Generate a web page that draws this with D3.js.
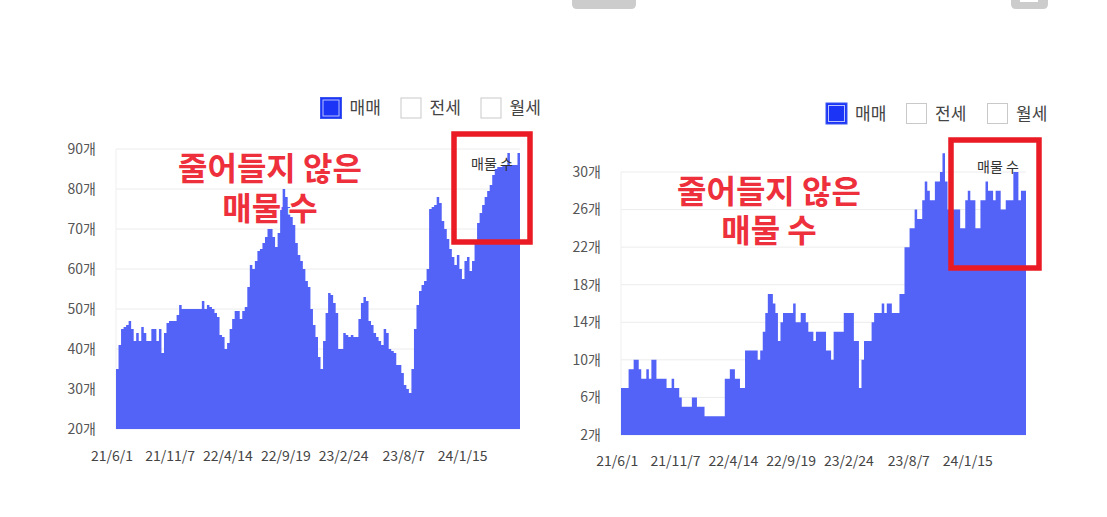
<!DOCTYPE html>
<html><head><meta charset="utf-8">
<script src="https://cdn.jsdelivr.net/npm/d3@7"></script>
<style>
html,body{margin:0;padding:0;background:#fff;}
svg{display:block;}
text{font-family:"Noto Sans CJK KR","Noto Sans",sans-serif;}
</style></head>
<body>
<svg id="c" width="1107" height="517"></svg>
<script>
// ---------- data ----------
const legendItems = ["매매", "전세", "월세"];
const xTickLabels = ["21/6/1", "21/11/7", "22/4/14", "22/9/19", "23/2/24", "23/8/7", "24/1/15"];
const xTickDates = ["2021-06-01", "2021-11-07", "2022-04-14", "2022-09-19", "2023-02-24", "2023-08-07", "2024-01-15"];
const leftYTicks = [20, 30, 40, 50, 60, 70, 80, 90];
const rightYTicks = [2, 6, 10, 14, 18, 22, 26, 30];
const annotationLines = ["줄어들지 않은", "매물 수"];
const boxLabel = "매물 수";

// weekly-ish sale listing counts (매매), left complex
const leftValues = [35,41,45,45.5,46,47,45,42,44,42,45.5,44,42,42,45,45,42,45,39,44,
  46.5,47,47,47,48.5,51,50,50,50,50,50,50,50,50,52,50,51,50.5,50,49,
  48,43.5,43,40,41.5,45,47.5,49.5,49.5,47.5,49.5,50.5,55.5,61,60,62,64.5,65,66.5,68,
  70,70,68,65.5,69,75.5,80,78,75.5,73,71,66.5,63.5,62,60,57,55.5,50,46,43,
  38,35,42,49,54,53.5,51.5,49,40,40,44,43.5,43,43.5,43,43,47.5,51.5,53,52,
  47,46,44,43,42,41,45,44,40,39.5,39,36,36,34,31,30,29,35,45,51,
  54.5,56,57,60,75,75.5,76,78,76.5,72,70,67.5,65,63,61,63.5,60,57.5,62,63,
  59.5,62,67,71.5,74,76,78,79.5,81,83.5,85,85.5,85.5,86,86,89,86,86,86,89];

// right complex
const rightValues = [7,7,7,9,9,10,10,9,8,8,9,8,10,10,8,8,8,8,7,7,
  8,7,7,6,5,5,5,5,6,6,5,5,5,4,4,4,4,4,4,4,
  4,8,8,9,9,8,8,7,7,11,11,11,11,11,10,11,13,15,17,17,
  16,15,12,14,15,15,15,15,16,14,14,15,15,14,13,13,12,13,13,13,
  13,11,11,10,13,13,13,13,15,15,15,15,12,12,7,10,12,12,12,14,
  15,15,15,16,15,16,16,15,15,15,17,17,22,22,24,24,26,25,25,27,
  29,28,27,27,29,29,30,32,29,26,26,26,26,26,24,24,27,28,27,27,
  24,24,27,27,29,28,28,27,28,28,26,26,27,27,27,30,30,27,28,28];

// ---------- drawing ----------
const svg = d3.select("#c");
const parse = d3.timeParse("%Y-%m-%d");
const DAY = 86400000;
const AREA_COLOR = "#5463f7";
const RED = "#ee2f3c";

// top gray tabs
svg.append("path").attr("d","M572,0 H636 V4 Q636,9 631,9 H577 Q572,9 572,4 Z").attr("fill","#cccccc");
svg.append("path").attr("d","M1011,0 H1048 V4 Q1048,9 1043,9 H1016 Q1011,9 1011,4 Z").attr("fill","#cccccc");
svg.append("rect").attr("x",1020).attr("y",0).attr("width",18).attr("height",2).attr("fill","#fff");

function drawChart(cfg){
  const g = svg.append("g");
  const n = cfg.values.length;
  const start = parse(cfg.start);
  const stepMs = cfg.stepDays * DAY;
  const dates = cfg.values.map((v,i)=> new Date(+start + i*stepMs));
  const end = new Date(+start + n*stepMs);
  const x = d3.scaleTime().domain([start, end]).range([cfg.left, cfg.right]);
  const y = d3.scaleLinear().domain(cfg.yDomain).range([cfg.bottom, cfg.top]);

  // grid
  g.selectAll("line.grid").data(cfg.yTicks).join("line")
    .attr("x1", cfg.left).attr("x2", cfg.right)
    .attr("y1", d=>y(d)).attr("y2", d=>y(d))
    .attr("stroke","#ececec").attr("stroke-width",1);
  g.append("line").attr("x1",cfg.left).attr("x2",cfg.left)
    .attr("y1",y(cfg.yTicks[cfg.yTicks.length-1])).attr("y2",cfg.bottom)
    .attr("stroke","#efefef");

  // y labels
  g.selectAll("text.yl").data(cfg.yTicks).join("text")
    .attr("x", cfg.left - 20).attr("y", d=>y(d)).attr("dy","0.35em")
    .attr("text-anchor","end").attr("font-size",14).attr("fill","#555")
    .text(d=> d + "개");

  // x labels
  g.selectAll("text.xl").data(xTickLabels).join("text")
    .attr("x",(d,i)=> x(parse(xTickDates[i]))).attr("y", cfg.xLabelY)
    .attr("text-anchor","middle").attr("font-size",14).attr("fill","#444")
    .text(d=>d);

  // area (step)
  const pts = dates.map((d,i)=>({d, v: cfg.values[i]}));
  pts.push({d: end, v: cfg.values[n-1]});
  const area = d3.area().curve(d3.curveStepAfter)
    .x(p=>x(p.d)).y0(y(cfg.yDomain[0])).y1(p=>y(p.v));
  g.append("path").datum(pts).attr("d", area).attr("fill", AREA_COLOR);

  // legend
  legendItems.forEach((name,i)=>{
    const bx = cfg.legendX[i];
    const by = cfg.legendY;
    if(i===0){
      g.append("rect").attr("x",bx).attr("y",by).attr("width",21).attr("height",21)
        .attr("fill","#1c34f6").attr("stroke","#3a55f0").attr("stroke-width",1);
      g.append("rect").attr("x",bx+2.5).attr("y",by+2.5).attr("width",16).attr("height",16)
        .attr("fill","none").attr("stroke","#b9c3ff").attr("stroke-width",1);
    } else {
      g.append("rect").attr("x",bx+0.5).attr("y",by+0.5).attr("width",20).attr("height",20)
        .attr("fill","#fff").attr("stroke","#c9c9c9").attr("stroke-width",1);
    }
    g.append("text").attr("x",bx+29).attr("y",by+11).attr("dy","0.35em")
      .attr("font-size",17).attr("fill","#444").text(name);
  });

  // red annotation text
  annotationLines.forEach((t,i)=>{
    g.append("text").attr("x",cfg.annX).attr("y",cfg.annY[i])
      .attr("text-anchor","middle").attr("font-size",32).attr("font-weight","bold")
      .attr("fill",RED).attr("stroke","#fff").attr("stroke-width",3)
      .attr("paint-order","stroke").text(t);
  });

  // box label
  g.append("text").attr("x",cfg.boxLabelX).attr("y",cfg.boxLabelY)
    .attr("font-size",14).attr("fill","#333").text(boxLabel);

  // red rectangle
  const r = cfg.redRect;
  g.append("rect").attr("x",r[0]).attr("y",r[1]).attr("width",r[2]).attr("height",r[3])
    .attr("fill","none").attr("stroke","#ea1b24").attr("stroke-width",5.5);
}

drawChart({
  values: leftValues, start: "2021-06-12", stepDays: 6.9,
  left: 116, right: 520, top: 149, bottom: 429,
  yDomain: [20, 90], yTicks: leftYTicks, xLabelY: 461,
  legendX: [320.5, 400.5, 480.5], legendY: 97.5,
  annX: 270, annY: [180, 220],
  boxLabelX: 471, boxLabelY: 169,
  redRect: [454, 134, 76, 108]
});

drawChart({
  values: rightValues, start: "2021-06-11", stepDays: 6.92,
  left: 621, right: 1026, top: 172, bottom: 435,
  yDomain: [2, 30], yTicks: rightYTicks, xLabelY: 466,
  legendX: [826, 906, 987], legendY: 103,
  annX: 769, annY: [203, 242],
  boxLabelX: 977, boxLabelY: 172,
  redRect: [951, 140, 88, 128]
});
</script>
</body></html>
